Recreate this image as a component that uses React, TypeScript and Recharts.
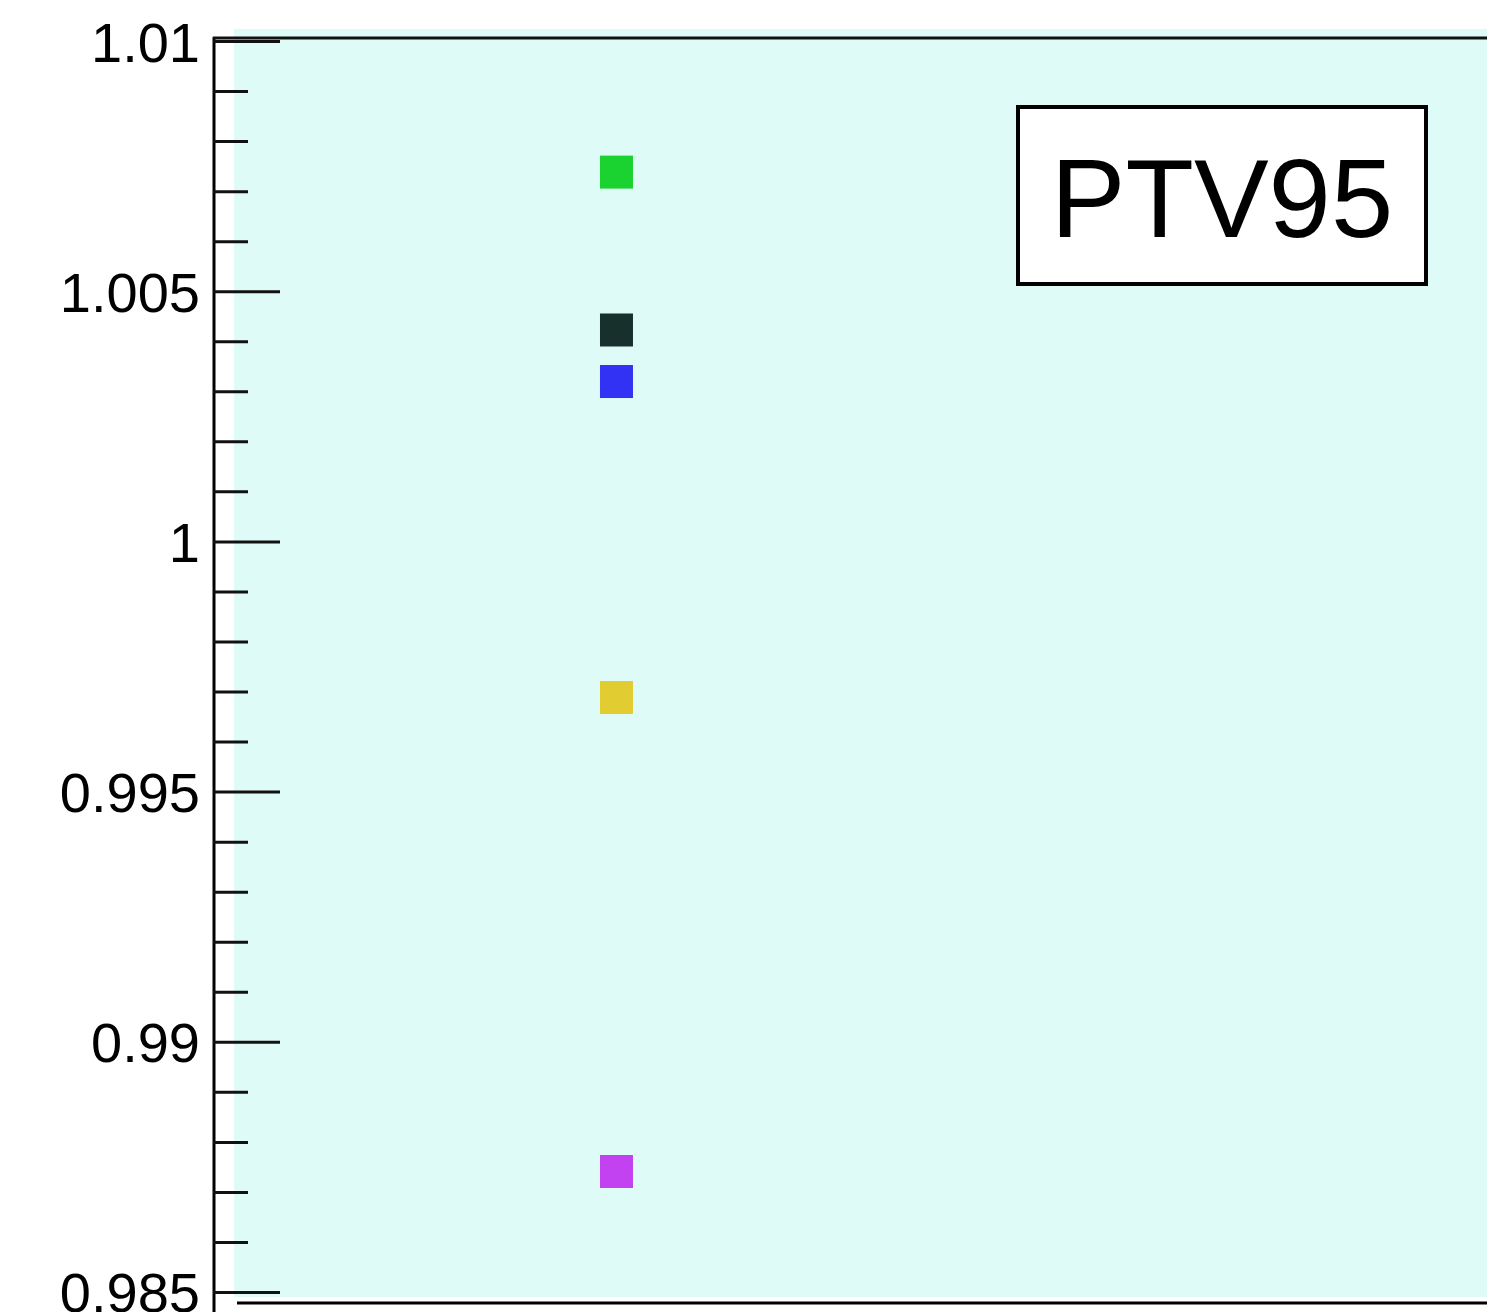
import React from "react";
import { ScatterChart, Scatter, XAxis, YAxis, CartesianGrid } from "recharts";

// ---- data ----
const seriesNames = ["green", "dark", "blue", "yellow", "purple"];
const seriesColors = ["#1bd330", "#17302b", "#3232f4", "#e1cc31", "#c241f1"];
const seriesX = [1, 1, 1, 1, 1];
const seriesY = [1.00739, 1.004235, 1.003205, 0.99689, 0.987418];
const yTicks = [
  0.985, 0.986, 0.987, 0.988, 0.989, 0.99, 0.991, 0.992, 0.993, 0.994, 0.995,
  0.996, 0.997, 0.998, 0.999, 1.0, 1.001, 1.002, 1.003, 1.004, 1.005, 1.006,
  1.007, 1.008, 1.009, 1.01,
];
const yDomain = [0.98491, 1.01025];
const xDomain = [0, 3.276];
const boxLabel = "PTV95";

// ---- layout ----
const W = 1487;
const H = 1312;
const FONT = "'Liberation Sans', Arial, Helvetica, sans-serif";
const AXIS_X = 214;

const isMajor = (v: number) => Math.round(v * 1000) % 5 === 0;
const fmt = (v: number) => String(Number(v.toFixed(3)));

const YTick = (props: any) => {
  const { y, payload } = props;
  const v = payload.value as number;
  const major = isMajor(v);
  return (
    <g>
      <line
        x1={AXIS_X - 1}
        x2={major ? 280 : 248}
        y1={y}
        y2={y}
        stroke="#111"
        strokeWidth={3}
      />
      {major && (
        <text
          x={200}
          y={y + 20}
          textAnchor="end"
          fontSize={56}
          fontFamily={FONT}
          fill="#000"
        >
          {fmt(v)}
        </text>
      )}
    </g>
  );
};

const Frame = () => (
  <g>
    <line x1={AXIS_X} x2={AXIS_X} y1={37} y2={H} stroke="#000" strokeWidth={3} />
    <line x1={AXIS_X - 1} x2={W} y1={38} y2={38} stroke="#111" strokeWidth={3} />
    <line x1={237} x2={W} y1={1303} y2={1303} stroke="#000" strokeWidth={3} />
    <rect x={1018} y={107} width={408} height={177} fill="#fff" stroke="#000" strokeWidth={4} />
    <text
      x={1222}
      y={237}
      textAnchor="middle"
      fontSize={112}
      fontFamily={FONT}
      fill="#000"
    >
      {boxLabel}
    </text>
  </g>
);

const Square = (props: any) => {
  const { cx, cy, fill } = props;
  const s = 33;
  return <rect x={cx - s / 2} y={cy - s / 2} width={s} height={s} fill={fill} />;
};

export default function App() {
  return (
    <div style={{ position: "absolute", left: 0, top: 0, width: W, height: H, background: "#fff" }}>
      <ScatterChart
        width={W}
        height={H}
        margin={{ top: 29, right: 0, bottom: 15, left: 0 }}
      >
        <CartesianGrid horizontal={false} vertical={false} fill="#dffbf7" stroke="none" />
        <XAxis
          type="number"
          dataKey="x"
          domain={xDomain}
          hide
          allowDataOverflow
        />
        <YAxis
          type="number"
          dataKey="y"
          domain={yDomain}
          ticks={yTicks}
          width={234}
          axisLine={false}
          tickLine={false}
          tick={<YTick />}
          interval={0}
          allowDataOverflow
        />
        {seriesNames.map((name, i) => (
          <Scatter
            key={name}
            name={name}
            data={[{ x: seriesX[i], y: seriesY[i] }]}
            fill={seriesColors[i]}
            shape={<Square />}
            isAnimationActive={false}
          />
        ))}
        <Frame />
      </ScatterChart>
    </div>
  );
}
